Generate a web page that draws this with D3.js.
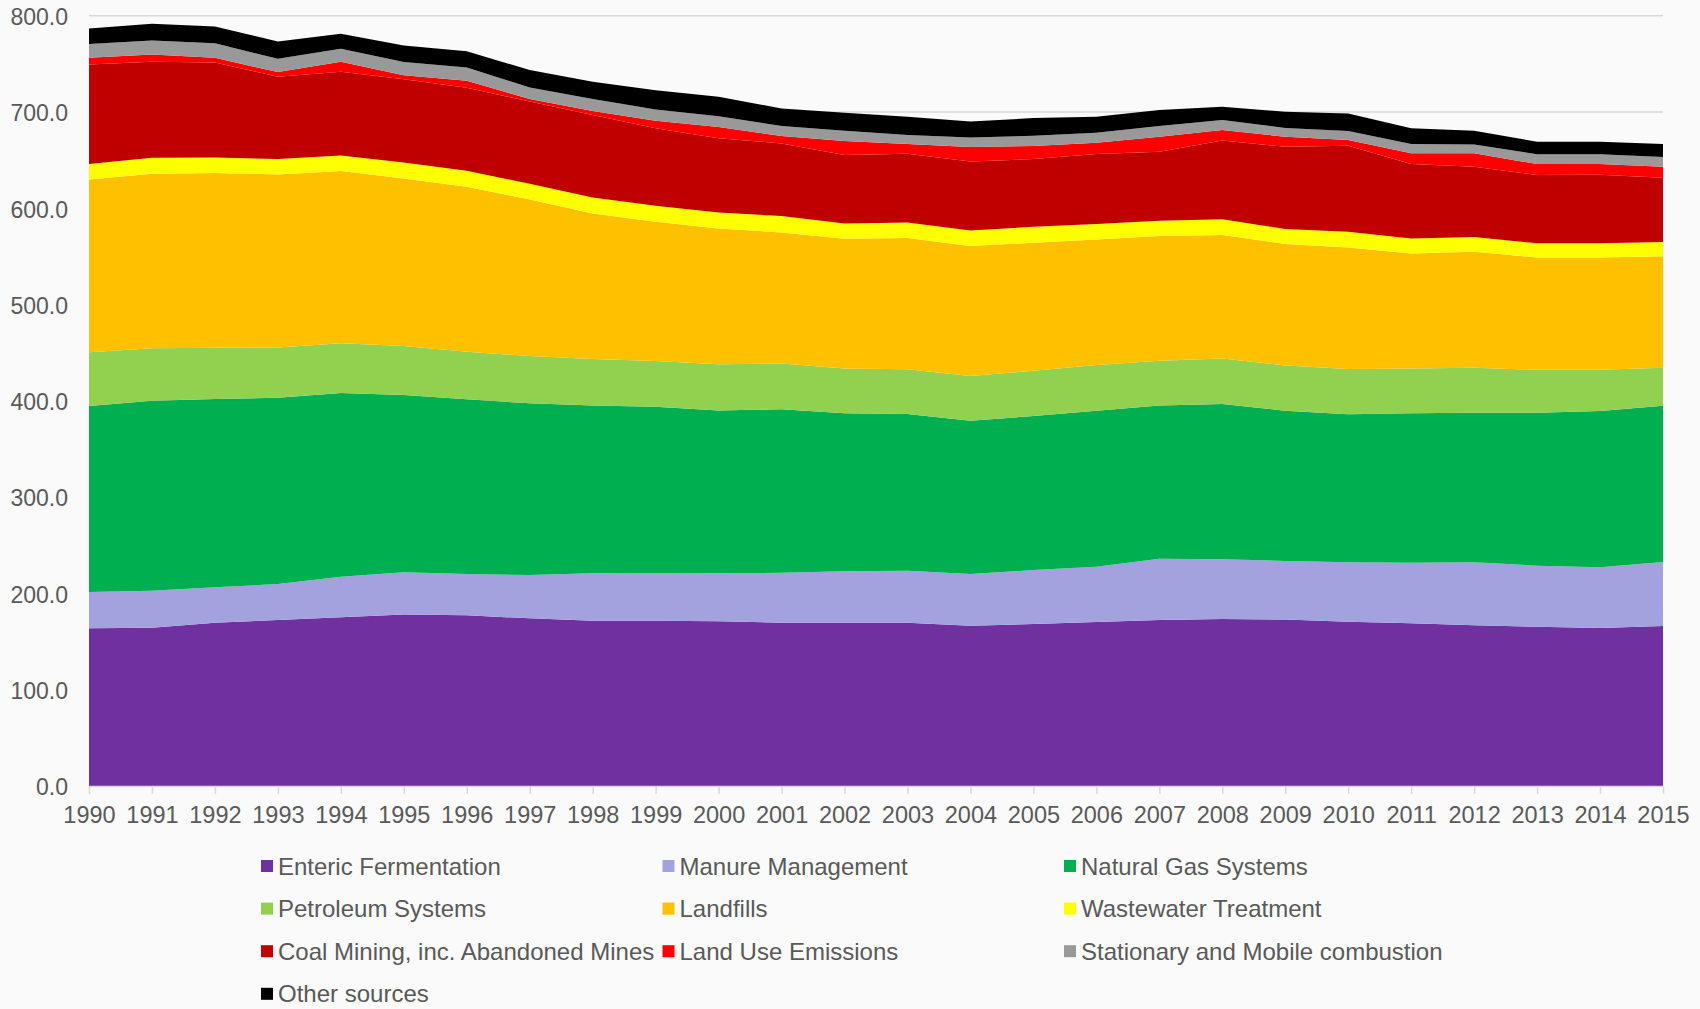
<!DOCTYPE html>
<html lang="en">
    <head>
        <meta charset="UTF-8" />
        <title>Methane emissions by source</title>
        <script src="https://d3js.org/d3.v7.min.js"></script>
        <style>
            body {
                margin: 0;
                padding: 0;
                background: #fafafa;
                font-family: 'Liberation Sans', Arial, sans-serif;
            }
            svg text {
                fill: #595959;
                font-size: 23px;
            }
            .legend text {
                font-size: 24px;
            }
            .grid line {
                stroke: #d9d9d9;
                stroke-width: 1.5px;
            }
            .axis--x path,
            .axis--x line {
                stroke: #d9d9d9;
                stroke-width: 1.5px;
            }
        </style>
    </head>
    <body>
        <svg id="chart" width="1700" height="1009"></svg>

        <script>
            const years = d3.range(1990, 2016);

            const enteric = [163.8, 164.4, 169.6, 172.4, 175.2, 178.2, 177.3, 174.1, 171.7, 171.7, 171.0, 169.6, 169.6,
                169.6, 166.5, 168.2, 170.3, 172.4, 173.4, 172.8, 170.6, 169.0, 166.9, 165.4, 164.1, 166.1];
            const manure = [37.7, 38.4, 36.7, 37.4, 42.1, 43.7, 42.8, 45.0, 49.2, 49.5, 49.9, 51.9, 53.4,
                54.0, 53.6, 56.1, 57.4, 63.6, 62.0, 61.0, 61.7, 62.9, 65.4, 63.4, 63.0, 66.5];
            const naturalGas = [193.1, 197.3, 195.6, 193.4, 190.8, 184.1, 181.5, 178.3, 174.4, 172.7, 169.2, 169.7, 164.0,
                162.7, 159.2, 159.9, 162.0, 159.3, 161.3, 156.0, 153.7, 155.1, 155.4, 158.9, 162.3, 162.3];
            const petroleum = [55.8, 54.4, 53.3, 52.3, 51.6, 50.9, 49.4, 49.1, 48.1, 47.4, 47.8, 47.7, 46.7,
                46.4, 46.5, 47.1, 47.5, 46.4, 47.4, 46.9, 47.0, 46.7, 46.7, 44.6, 42.9, 39.5];
            const landfills = [179.6, 181.3, 181.4, 179.7, 178.9, 174.1, 171.3, 162.7, 151.3, 144.6, 141.2, 136.0, 134.6,
                136.4, 134.9, 132.9, 130.5, 129.4, 128.1, 126.2, 126.3, 119.4, 120.4, 116.7, 116.7, 115.9];
            const wastewater = [15.9, 16.7, 16.2, 15.9, 16.3, 16.5, 16.7, 16.3, 16.6, 16.7, 16.6, 17.0, 16.0,
                16.2, 16.3, 16.6, 15.9, 16.0, 16.3, 15.7, 16.3, 15.6, 15.3, 14.6, 14.6, 14.6];
            const coal = [103.5, 99.7, 98.7, 85.5, 86.9, 86.5, 86.2, 85.3, 85.5, 80.4, 76.9, 75.5, 71.0,
                71.3, 71.7, 70.3, 72.7, 71.6, 82.0, 85.3, 89.3, 77.2, 73.0, 70.9, 71.3, 66.8];
            const landUse = [6.9, 7.6, 4.8, 4.8, 10.4, 4.2, 7.2, 2.6, 4.1, 7.9, 11.7, 7.6, 14.5,
                10.1, 14.9, 13.5, 11.8, 15.6, 10.7, 10.4, 6.0, 11.2, 14.0, 11.4, 11.0, 11.4];
            const stationary = [14.2, 14.5, 15.2, 13.8, 13.4, 13.8, 13.8, 12.1, 12.5, 11.8, 11.4, 10.4, 10.7,
                9.3, 10.0, 10.7, 10.3, 11.1, 10.4, 9.2, 9.3, 9.6, 9.2, 10.1, 10.1, 10.1];
            const other = [16.3, 17.3, 17.4, 18.1, 15.6, 17.0, 17.0, 18.0, 18.0, 20.0, 20.1, 18.3, 18.7,
                19.1, 16.6, 18.4, 16.7, 16.6, 13.8, 16.7, 18.3, 16.3, 14.2, 13.2, 13.2, 13.5];

            const seriesNames = ['Enteric Fermentation', 'Manure Management', 'Natural Gas Systems',
                'Petroleum Systems', 'Landfills', 'Wastewater Treatment',
                'Coal Mining, inc. Abandoned Mines', 'Land Use Emissions', 'Stationary and Mobile combustion',
                'Other sources'];
            const seriesValues = [enteric, manure, naturalGas, petroleum, landfills, wastewater,
                coal, landUse, stationary, other];
            const colors = ['#7030a0', '#a3a2de', '#00b050', '#92d050', '#ffc000', '#ffff00',
                '#c00000', '#ff0000', '#999999', '#000000'];
            const yTicks = [0, 100, 200, 300, 400, 500, 600, 700, 800];

            const rows = years.map((year, i) => {
                const row = { year };
                seriesNames.forEach((name, s) => (row[name] = seriesValues[s][i]));
                return row;
            });

            const svg = d3.select('#chart');
            const margin = { top: 15.7, right: 37, bottom: 223, left: 89 };
            const width = 1700 - margin.left - margin.right;
            const height = 1009 - margin.top - margin.bottom;

            const x = d3.scaleLinear().domain([1990, 2015]).range([0, width]);
            const y = d3.scaleLinear().domain([0, 800]).range([height, 0]);

            const g = svg.append('g').attr('transform', `translate(${margin.left},${margin.top})`);

            // gridlines behind the areas
            g.append('g')
                .attr('class', 'grid')
                .selectAll('line')
                .data(yTicks.slice(1))
                .join('line')
                .attr('x1', 0)
                .attr('x2', width)
                .attr('y1', (d) => y(d))
                .attr('y2', (d) => y(d));

            const stack = d3.stack().keys(seriesNames);
            const layers = stack(rows);

            const area = d3
                .area()
                .x((d) => x(d.data.year))
                .y0((d) => y(d[0]))
                .y1((d) => y(d[1]));

            g.selectAll('.layer')
                .data(layers)
                .join('path')
                .attr('class', 'layer')
                .attr('fill', (d, i) => colors[i])
                .attr('d', area);

            // y axis labels, no line
            const yAxis = g.append('g').attr('class', 'axis axis--y').call(
                d3.axisLeft(y).tickValues(yTicks).tickFormat(d3.format('.1f')).tickSize(0).tickPadding(21)
            );
            yAxis.select('.domain').remove();
            yAxis.selectAll('text').attr('dy', '0.38em').style('font-size', '23px');

            const xAxis = g
                .append('g')
                .attr('class', 'axis axis--x')
                .attr('transform', `translate(0,${height})`)
                .call(d3.axisBottom(x).tickValues(years).tickFormat(d3.format('d')).tickSizeInner(8).tickSizeOuter(0).tickPadding(12));
            xAxis.selectAll('text').style('font-size', '23.5px');

            // legend
            const legend = svg.append('g').attr('class', 'legend').attr('transform', 'translate(261,860)');
            const item = legend
                .selectAll('g')
                .data(seriesNames)
                .join('g')
                .attr('transform', (d, i) => `translate(${(i % 3) * 401.5},${Math.floor(i / 3) * 42.6})`);
            item.append('rect')
                .attr('width', 12)
                .attr('height', 12)
                .attr('fill', (d, i) => colors[i]);
            item.append('text')
                .attr('x', 17)
                .attr('y', 6)
                .attr('dy', '0.36em')
                .text((d) => d);
        </script>
    </body>
</html>
